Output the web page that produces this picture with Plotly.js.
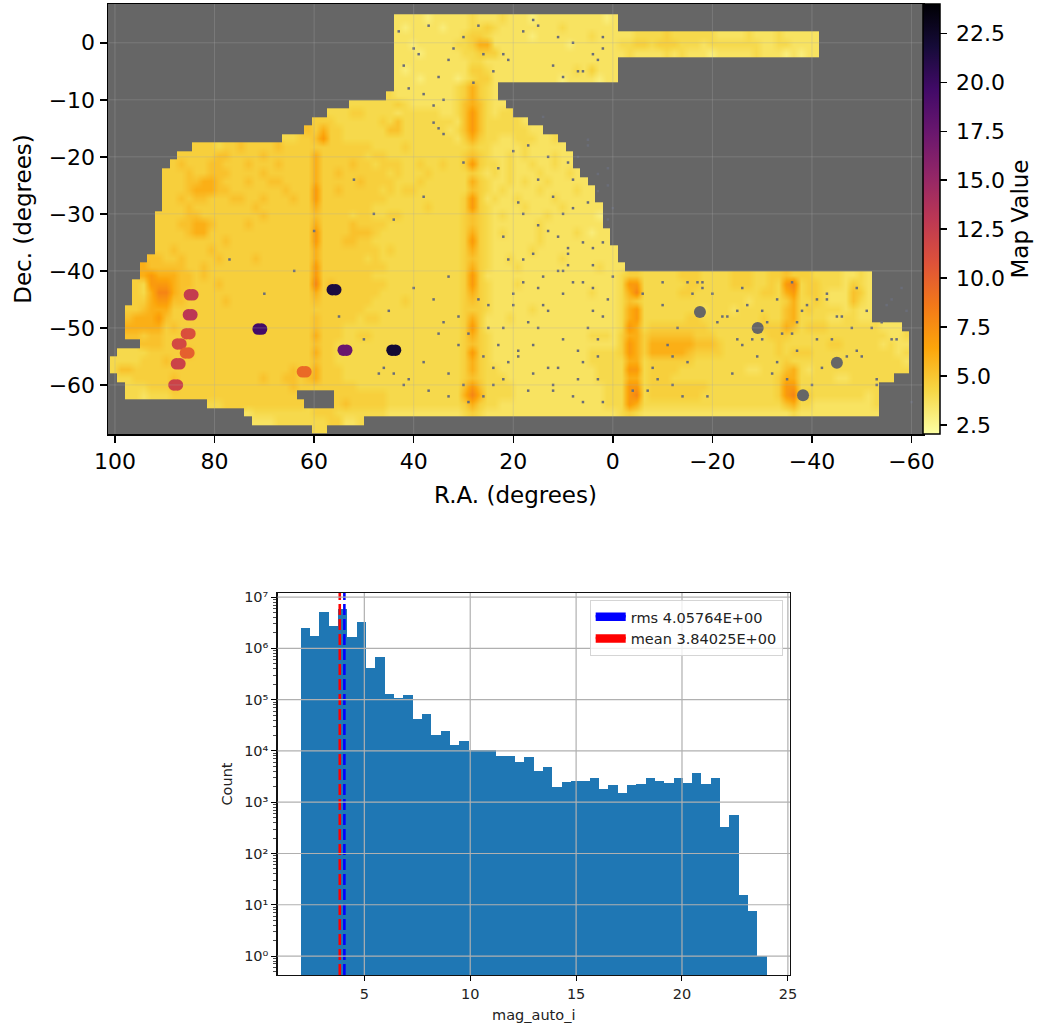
<!DOCTYPE html>
<html><head><meta charset="utf-8">
<script src="https://cdn.plot.ly/plotly-3.0.1.min.js"></script>
<style>html,body{margin:0;padding:0;background:#fff}#chart{width:1041px;height:1026px}</style>
</head><body><div id="chart"></div>
<script>
// ---- Sky map: cells of 1.5 x 1.5 degrees. Column 0 starts at R.A. 101, row 0 at Dec. +5.
const mapRowStart = [38,38,38,38,38,38,38,38,38,37,32,29,27,26,23,11,9,8,7,7,7,7,7,6,6,6,6,6,5,4,4,3,3,3,2,2,2,2,4,1,0,0,1,2,2,13,18,19,27];
const mapRows = [
"222212222232223222122222222212",
"212222122233432222222232222222",
"222222222344322222122222223222223333433333322223222322222",
"221222223346622222222221222222334434443332333333322332222",
"222122222334442222222222222222232222323222122222322212122",
"222222222233222222222222222222",
"212222222244322222222222324222",
"222122221234422222222212222122",
"222222223"+"464"+"32",
"3222222223"+"464"+"32",
"33333343222222"+"3"+"565"+"322",
"333443333233333223"+"575"+"3233",
"44433333343533333332"+"575"+"333332",
"546443333335533333323"+"575"+"33333322",
"334457443333333333333332"+"464"+"3322333223",
"444344544445444"+"444"+"444444333343333333"+"343"+"32222322222",
"44444554444544444"+"464"+"444443443333333333"+"454"+"322323222322",
"454445544454445444"+"464"+"444544344433433433"+"474"+"332322322322",
"4445445554444544444"+"464"+"454444443433343333"+"343"+"2323222322232",
"4445566544454455444"+"464"+"444454444333433333"+"364"+"32232322322222",
"4445666554444444544"+"474"+"454444434344333333"+"354"+"323222232222322",
"4454554445544544454"+"474"+"444444443333333333"+"474"+"232232222322222",
"4445444444445444444"+"464"+"444444333333343333"+"474"+"3222232222322222",
"44445544444444544444"+"454"+"444344334433333333"+"454"+"3232222232222221",
"44455665444454444444"+"464"+"444544443333333333"+"454"+"3222222322222222",
"44445664444444444444"+"474"+"444555433333333333"+"464"+"32322223222232122",
"44444444454444444444"+"474"+"445544333333333333"+"474"+"32222223222222222",
"44544445444444444444"+"464"+"444444434333333333"+"464"+"322222322222222222",
"554454444544445444444"+"464"+"444443433333333333"+"454"+"322322222232222222",
"6555554454444444444444"+"474"+"444444443333333333"+"464"+"3222322222222223222",
"6766655454444444444444"+"474"+"444444333333333333"+"474"+"222222222222222222"+"3443"+"33334443333444334"+"4544"+"433332232",
"43777655444544444444444"+"484"+"544444443333333333"+"474"+"322232222222222222"+"3773"+"33333443333444334"+"3783"+"443332432",
"43688654444444444444444"+"464"+"444444433333333333"+"464"+"322222222222223222"+"3683"+"33334433333333344"+"3673"+"443222542",
"44677554444454444444444"+"454"+"444444333343333333"+"454"+"322222222222222222"+"3543"+"33333333333332333"+"3463"+"343222532",
"445666444444444444444444"+"444"+"444443333333333333"+"444"+"322222322222222222"+"3673"+"33333332333233333"+"3563"+"433332322",
"566675444444444444444444"+"454"+"444434433333333333"+"464"+"222322222222222222"+"3673"+"33333443333333343"+"3563"+"333223322",
"666664544444444444444444"+"454"+"443333333333333333"+"474"+"222222222222222222"+"3763"+"44444444333333344"+"4653"+"444333333"+"3222",
"554554444444444444444444"+"464"+"443344333333333333"+"464"+"322222222222223332"+"4664"+"55555544433333334"+"4433"+"333333333"+"33223",
"5554444444444444444444"+"454"+"433333333333333333"+"454"+"322222222222222222"+"4764"+"66666655543333333"+"4333"+"333443333"+"32322",
"3333444445444444444444444"+"464"+"433333333333333333"+"474"+"322222222222223333"+"4764"+"66666544443333333"+"4344"+"433333333"+"33323",
"33334445444444444444444444"+"454"+"433333333333333333"+"464"+"322222222222223333"+"3663"+"44444433333333333"+"3433"+"333333333"+"33332",
"35544444444444444444444454"+"464"+"443333333333333333"+"464"+"332222222222222333"+"3773"+"44443333333332233"+"3563"+"233333333"+"33333",
"3344444544444444444544554"+"564"+"443333333333333333"+"454"+"333222222222222333"+"3663"+"44433333333333333"+"4663"+"333322333"+"333",
"333444544444444444444454"+"444"+"444433333333333333"+"575"+"333322222222222233"+"3773"+"44444444333333333"+"4773"+"333333333"+"3",
"33233344444444444444444"+"....."+"44444443333333333"+"686"+"333322222222222233"+"3783"+"44444443333333333"+"4783"+"433333332"+"3",
"3344444444444"+"...."+"45444443333333333"+"464"+"332222222222222233"+"3763"+"33333333333333333"+"3563"+"322222222"+"3",
"23333333"+"344"+"433333332222222222"+"343"+"222222222222222222"+"3432"+"22222222222222222"+"2232"+"222222222"+"2",
"222333333344223",
"33"
];
const mapLevels = {"1":3.0,"2":3.6,"3":4.1,"4":4.6,"5":5.2,"6":6.0,"7":7.0,"8":8.0,"9":9.5};

// Compact sources seen on the map (each shows two lobes)
const spotRa  = [56.0,70.9,53.8,44.0,84.7,84.9,85.3,87.1,85.5,87.3,87.8,62.0];
const spotDec = [-43.3,-50.2,-53.9,-53.9,-44.2,-47.7,-51.0,-52.8,-54.4,-56.3,-60.0,-57.7];
const spotVal = [21.5,19.5,17.5,22.0,12.5,13.0,11.0,11.5,10.0,12.0,12.0,9.5];

// Empty patches inside the footprint
const holeRa  = [-17.5,-29.1,-45.0,-38.2];
const holeDec = [-47.2,-50.0,-56.1,-61.8];

// Small empty pixels, positions estimated by eye
const speckRa = [40,37,33,30,24,18,12,8,4,35,26,15,6,2,42,38,36,22,10,3,36,35,34,20,14,7,1,
 15,12,9,5,3,18,13,8,4,1,16,11,6,2,20,14,9,4,0,17,10,5,1,23,19,13,7,3,33,27,21,16,12,8,6,2,
 35,31,25,18,11,5,45,40,34,29,22,15,9,3,38,33,24,17,10,4,50,46,41,36,30,26,19,12,6,
 55,64,48,70,77,52,44,38,30,60,
 -6,-10,-13,-15,-18,-22,-25,-27,-31,-33,-36,-38,-41,-43,-8,-12,-19,-24,-29,-35,-40,-47,-52,-55,-58,
 -10,-16,-21,-26,-30,-34,-37,-39,-42,-44,-46,-49,-50,-53,-54,-56,-57,-59,-4,-9,-14,
 43,39,32,27,21,16,11,7,2,41,34,28,23,17,13,8,5,1,19,15,10,6,3,0,22,18,14,9,4,2,
 25,20,16,11,7,3,31,26,22,13,8,44,37,29,21,15,10,47,42,33,24,
 -12,-17,-23,-28,-32,-37,-43,-48,-51,-7,-20,-26,-33,-45,-53,-56,-60,-11,-15,-18,-25,-30,-36,-41,-49];
const speckDec = [-1,3,-3,1,-5,2,-4,0,-2,-6,-2,3,-5,1,-4,-9,-11,-2,-6,-3,-14,-15,-16,-19,-13,-20,-22,
 -24,-27,-21,-18,-26,-30,-33,-29,-36,-31,-37,-40,-42,-35,-44,-46,-39,-47,-41,-49,-52,-50,-45,-53,-55,-57,-54,-59,-41,-45,-38,-58,-60,-62,-56,-63,
 -51,-48,-46,-42,-34,-28,-47,-43,-49,-51,-50,-43,-37,-55,-56,-58,-60,-61,-44,-39,-52,-57,-59,-45,-60,-62,-54,-61,-63,
 -48,-40,-30,-44,-38,-24,-31,-27,-21,-33,
 -44,-46,-50,-42,-43,-48,-52,-46,-49,-45,-51,-47,-52,-44,-57,-60,-62,-58,-55,-59,-60,-55,-50,-46,-43,
 -42,-44,-49,-53,-47,-51,-54,-46,-57,-52,-48,-43,-55,-59,-49,-45,-52,-47,-61,-59,-62,
 2,-2,-1,3,-3,4,1,-5,-1,-8,-10,-7,-22,-18,-20,-24,-17,-25,-28,-32,-30,-35,-23,-29,-34,-38,-41,-36,-43,-48,
 -50,-46,-53,-57,-59,-52,-53,-55,-59,-47,-42,-58,-61,-63,-56,-50,-40,-58,-60,-62,-57,
 -55,-42,-48,-52,-58,-49,-45,-50,-47,-61,-44,-43,-56,-48,-60,-52,-63,-53,-56,-42,-47,-52,-42,-45,-54];

// ---- Histogram: 50 bins, 2 to 24
const binStart = 2, binWidth = 0.44;
const counts = [2.45e6,1.76e6,5.1e6,2.7e6,5.8e6,1.66e6,3.2e6,4.1e5,6.7e5,1.28e5,1.06e5,1.23e5,4.2e4,5.3e4,2.0e4,2.5e4,1.3e4,1.58e4,
 1.05e4,1.06e4,1.05e4,8.0e3,8.0e3,6.0e3,7.5e3,4.1e3,4.9e3,1.95e3,2.45e3,2.6e3,2.6e3,2.95e3,1.85e3,2.15e3,1.48e3,2.15e3,2.27e3,2.95e3,2.6e3,2.35e3,2.95e3,2.35e3,3.76e3,2.27e3,2.95e3,
 330,556,15.5,7.4,1];
const rmsValue = 4.05764, meanValue = 3.84025;
const rmsLabel = "rms 4.05764E+00", meanLabel = "mean 3.84025E+00";

const raTicks = [100,80,60,40,20,0,-20,-40,-60];
const decTicks = [0,-10,-20,-30,-40,-50,-60];
const barTicks = [2.5,5,7.5,10,12.5,15,17.5,20,22.5];
const barTickText = ["2.5","5.0","7.5","10.0","12.5","15.0","17.5","20.0","22.5"];
const magTicks = [5,10,15,20,25];
const countTicks = [1,10,100,1e3,1e4,1e5,1e6,1e7];
const countTickText = ["10\u2070","10\u00b9","10\u00b2","10\u00b3","10\u2074","10\u2075","10\u2076","10\u2077"];

// ---- Assembly
const W=1041,H=1026,FONT='"DejaVu Sans",sans-serif';
const nCols=108;
const z = mapRows.map((s,r)=>{
  const row=new Array(nCols).fill(null);
  for(let i=0;i<s.length;i++){const v=mapLevels[s[i]];const c=mapRowStart[r]+i;if(v!==undefined&&c<nCols)row[c]=v;}
  return row;
});
const infernoR=[[0,"#fcffa4"],[0.1,"#f6d746"],[0.2,"#fca50a"],[0.3,"#f37819"],[0.4,"#dd513a"],[0.5,"#bc3754"],[0.6,"#932667"],[0.7,"#6a176e"],[0.8,"#420a68"],[0.9,"#160b39"],[1,"#000004"]];
const yLo=Math.pow(10,-0.37), yHi=Math.pow(10,7.08);
const traces=[
 {type:'heatmap',z:z,x0:100.25,dx:-1.5,y0:4.25,dy:-1.5,zsmooth:'best',coloraxis:'coloraxis',xaxis:'x',yaxis:'y',hoverinfo:'skip'},
 {type:'scatter',mode:'markers',x:speckRa,y:speckDec,xaxis:'x',yaxis:'y',showlegend:false,hoverinfo:'skip',marker:{symbol:'square',size:2.5,color:'#6a6d78'}},
 {type:'scatter',mode:'markers',x:holeRa,y:holeDec,xaxis:'x',yaxis:'y',showlegend:false,hoverinfo:'skip',marker:{size:12,color:'#666666'}},
 {type:'scatter',mode:'markers',x:spotRa.flatMap(r=>[r+0.35,r-0.35]),y:spotDec.flatMap(d=>[d,d]),xaxis:'x',yaxis:'y',showlegend:false,hoverinfo:'skip',marker:{size:11.5,color:spotVal.flatMap(v=>[v,v]),coloraxis:'coloraxis'}},
 {type:'bar',x0:binStart+binWidth/2,dx:binWidth,y:counts,width:binWidth,xaxis:'x2',yaxis:'y2',showlegend:false,marker:{color:'#1f77b4',line:{width:0}},hoverinfo:'skip'},
 {type:'scatter',mode:'lines',x:[meanValue,meanValue],y:[yLo,yHi],xaxis:'x2',yaxis:'y2',showlegend:false,line:{color:'#ff0000',width:2.6,dash:'11px,4px'},hoverinfo:'skip'},
 {type:'scatter',mode:'lines',x:[rmsValue,rmsValue],y:[yLo,yHi],xaxis:'x2',yaxis:'y2',showlegend:false,line:{color:'#0000ff',width:2.6,dash:'11px,4px'},hoverinfo:'skip'},
 {type:'scatter',mode:'lines',name:rmsLabel,x:[null],y:[null],fill:'toself',fillcolor:'#0000ff',xaxis:'x2',yaxis:'y2',line:{color:'#0000ff',width:5}},
 {type:'scatter',mode:'lines',name:meanLabel,x:[null],y:[null],fill:'toself',fillcolor:'#ff0000',xaxis:'x2',yaxis:'y2',line:{color:'#ff0000',width:5}}
];
const shapes=[{type:'rect',xref:'x domain',yref:'y domain',x0:0,x1:1,y0:0,y1:1,layer:'below',fillcolor:'#666666',line:{width:0}}];
const faint={color:'rgba(170,170,170,0.3)',width:1};
raTicks.forEach(v=>shapes.push({type:'line',xref:'x',yref:'y domain',x0:v,x1:v,y0:0,y1:1,layer:'above',line:faint}));
decTicks.forEach(v=>shapes.push({type:'line',xref:'x domain',yref:'y',x0:0,x1:1,y0:v,y1:v,layer:'above',line:faint}));
const grid={color:'#b0b0b0',width:1.2};
magTicks.forEach(v=>shapes.push({type:'line',xref:'x2',yref:'y2 domain',x0:v,x1:v,y0:0,y1:1,layer:'above',line:grid}));
countTicks.forEach(v=>shapes.push({type:'line',xref:'x2 domain',yref:'y2',x0:0,x1:1,y0:v,y1:v,layer:'above',line:grid}));
const minorVals=[];countTicks.forEach(d=>{for(let m=2;m<10;m++){const v=d*m;if(v<yHi)minorVals.push(v);}});[0.5,0.6,0.7,0.8,0.9].forEach(v=>minorVals.push(v));

const layout={
 width:W,height:H,margin:{l:0,r:0,t:0,b:0,autoexpand:false},paper_bgcolor:'#fff',plot_bgcolor:'rgba(0,0,0,0)',
 font:{family:FONT,color:'#000'},showlegend:true,barmode:'overlay',bargap:0,
 xaxis:{domain:[108/W,923/W],anchor:'y',range:[101.4,-62.3],tickmode:'array',tickvals:raTicks,showgrid:false,zeroline:false,
  ticks:'outside',ticklen:7,tickwidth:1.5,tickcolor:'#000',tickfont:{size:22,family:FONT},showline:true,mirror:true,linecolor:'#000',linewidth:1.5,
  title:{text:'R.A. (degrees)',font:{size:23,family:FONT},standoff:14}},
 yaxis:{domain:[1-434/H,1-4/H],anchor:'x',range:[-68.6,6.8],tickmode:'array',tickvals:decTicks,showgrid:false,zeroline:false,
  ticks:'outside',ticklen:7,tickwidth:1.5,tickcolor:'#000',tickfont:{size:22,family:FONT},showline:true,mirror:true,linecolor:'#000',linewidth:1.5,
  title:{text:'Dec. (degrees)',font:{size:23,family:FONT},standoff:10}},
 xaxis2:{domain:[277.5/W,790/W],anchor:'y2',range:[0.9,25.1],tickmode:'array',tickvals:magTicks,showgrid:false,zeroline:false,
  ticks:'outside',ticklen:5,tickwidth:1,tickcolor:'#000',tickfont:{size:14.5,family:FONT,color:'#222'},showline:true,mirror:true,linecolor:'#111',linewidth:1.2,
  title:{text:'mag_auto_i',font:{size:14.5,family:FONT,color:'#222'},standoff:9}},
 yaxis2:{domain:[1-975/H,1-593/H],anchor:'x2',type:'log',range:[-0.37,7.08],tickmode:'array',tickvals:countTicks,ticktext:countTickText,showgrid:false,zeroline:false,
  ticks:'outside',ticklen:5,tickwidth:1,tickcolor:'#000',tickfont:{size:14.5,family:FONT,color:'#222'},showline:true,mirror:true,linecolor:'#111',linewidth:1.2,
  minor:{tickmode:'array',tickvals:minorVals,ticks:'outside',ticklen:3,tickwidth:0.7,tickcolor:'#000'},
  title:{text:'Count',font:{size:14.5,family:FONT,color:'#222'},standoff:8}},
 coloraxis:{cmin:2.04,cmax:24,colorscale:infernoR,colorbar:{
  xref:'paper',yref:'paper',x:923/W,xanchor:'left',xpad:0,ypad:0,y:1-4/H,yanchor:'top',lenmode:'fraction',len:430/H,thicknessmode:'pixels',thickness:17,
  tickmode:'array',tickvals:barTicks,ticktext:barTickText.map(t=>"\u2009"+t),ticks:'outside',ticklen:7,tickwidth:1.5,tickcolor:'#000',tickfont:{size:22,family:FONT},
  outlinewidth:1.5,outlinecolor:'#000',title:{text:'Map Value',side:'right',font:{size:23,family:FONT}}}},
 legend:{x:782.7/W,xanchor:'right',y:1-600/H,yanchor:'top',bgcolor:'rgba(255,255,255,0.8)',bordercolor:'#d5d5d5',borderwidth:1,font:{size:14.5,family:FONT,color:'#222'},traceorder:'normal',itemwidth:30},
 shapes:shapes
};
Plotly.newPlot('chart',traces,layout,{displayModeBar:false,staticPlot:true});
</script></body></html>
